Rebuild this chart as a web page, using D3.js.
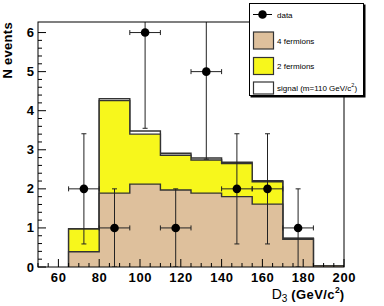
<!DOCTYPE html>
<html>
<head>
<meta charset="utf-8">
<script src="https://d3js.org/d3.v7.min.js"></script>
<style>
  body { margin: 0; background: #fff; }
  text { font-family: 'Liberation Sans', Arial, sans-serif; }
  .tick-label { font-size: 13px; font-weight: bold; fill: #000; letter-spacing: 0.6px; }
  .leg { font-size: 8px; fill: #000; }
</style>
</head>
<body>
<svg id="chart" width="384" height="306"></svg>
<script>
// bin edges (GeV/c^2) and stacked histogram contents
var binEdges = [65, 80, 95, 110, 125, 140, 155, 170, 185, 200];
var fourFermions = [0.39, 1.89, 2.12, 1.97, 1.89, 1.80, 1.61, 0.71, 0.03];
var twoFermions  = [0.58, 2.37, 1.28, 0.89, 0.85, 0.85, 0.57, 0.02, 0.00];
var signal       = [0.01, 0.05, 0.08, 0.05, 0.05, 0.03, 0.03, 0.01, 0.00];

// data points
var dataX   = [72.5, 87.5, 102.5, 117.5, 132.5, 147.5, 162.5, 177.5];
var dataN   = [2, 1, 6, 1, 5, 2, 2, 1];
var dataErr = [1.41, 1, 2.45, 1, 2.24, 1.41, 1.41, 1];
var dataXErr = 7.5;

var xTicks = [60, 80, 100, 120, 140, 160, 180, 200];
var yTicks = [0, 1, 2, 3, 4, 5, 6];

var svg = d3.select("#chart");
var pLeft = 38, pRight = 344, pTop = 22, pBottom = 267;

var x = d3.scaleLinear().domain([50, 200]).range([pLeft, pRight]);
var y = d3.scaleLinear().domain([0, 6.27]).range([pBottom, pTop]);

svg.append("clipPath").attr("id", "plotclip")
  .append("rect").attr("x", pLeft).attr("y", pTop)
  .attr("width", pRight - pLeft).attr("height", pBottom - pTop);

// cumulative stacks
var stack4 = fourFermions.slice();
var stack2 = fourFermions.map(function(d, i) { return d + twoFermions[i]; });
var stackS = stack2.map(function(d, i) { return d + signal[i]; });

function histPath(vals) {
  var p = d3.path();
  p.moveTo(x(binEdges[0]), y(0));
  vals.forEach(function(v, i) {
    p.lineTo(x(binEdges[i]), y(v));
    p.lineTo(x(binEdges[i + 1]), y(v));
  });
  p.lineTo(x(binEdges[binEdges.length - 1]), y(0));
  return p.toString();
}

var g = svg.append("g").attr("clip-path", "url(#plotclip)");
[[stackS, "#ffffff"], [stack2, "#f7f71c"], [stack4, "#dec09c"]].forEach(function(h) {
  g.append("path")
    .attr("d", histPath(h[0]))
    .attr("fill", h[1])
    .attr("stroke", "#333")
    .attr("stroke-width", 1.4);
});

// data with error bars
var pts = g.selectAll(".pt").data(dataX.map(function(d, i) {
  return { x: d, n: dataN[i], e: dataErr[i] };
})).enter().append("g");

pts.append("line")
  .attr("x1", function(d) { return x(d.x); }).attr("x2", function(d) { return x(d.x); })
  .attr("y1", function(d) { return y(d.n - d.e); }).attr("y2", function(d) { return y(d.n + d.e); })
  .attr("stroke", "#222").attr("stroke-width", 1);
pts.append("line")
  .attr("x1", function(d) { return x(d.x - dataXErr); }).attr("x2", function(d) { return x(d.x + dataXErr); })
  .attr("y1", function(d) { return y(d.n); }).attr("y2", function(d) { return y(d.n); })
  .attr("stroke", "#222").attr("stroke-width", 1);
// caps
[-1, 1].forEach(function(s) {
  pts.append("line")
    .attr("x1", function(d) { return x(d.x) - 2.5; }).attr("x2", function(d) { return x(d.x) + 2.5; })
    .attr("y1", function(d) { return y(d.n + s * d.e); }).attr("y2", function(d) { return y(d.n + s * d.e); })
    .attr("stroke", "#222").attr("stroke-width", 1);
  pts.append("line")
    .attr("x1", function(d) { return x(d.x + s * dataXErr); }).attr("x2", function(d) { return x(d.x + s * dataXErr); })
    .attr("y1", function(d) { return y(d.n) - 2.5; }).attr("y2", function(d) { return y(d.n) + 2.5; })
    .attr("stroke", "#222").attr("stroke-width", 1);
});
pts.append("circle")
  .attr("cx", function(d) { return x(d.x); }).attr("cy", function(d) { return y(d.n); })
  .attr("r", 4.3).attr("fill", "#000");

// frame
svg.append("rect").attr("x", pLeft).attr("y", pTop)
  .attr("width", pRight - pLeft).attr("height", pBottom - pTop)
  .attr("fill", "none").attr("stroke", "#000").attr("stroke-width", 1);

// x ticks
d3.range(50, 201, 5).forEach(function(v) {
  var major = v % 20 === 0;
  svg.append("line").attr("x1", x(v)).attr("x2", x(v))
    .attr("y1", pBottom).attr("y2", pBottom - (major ? 8 : 4))
    .attr("stroke", "#000").attr("stroke-width", 1);
});
svg.selectAll(".xl").data(xTicks).enter().append("text")
  .attr("class", "tick-label").attr("text-anchor", "middle")
  .attr("x", function(d) { return x(d) + 0.3; }).attr("y", 282)
  .text(function(d) { return d; });

// y ticks
d3.range(0, 31).forEach(function(k) {
  var v = k / 5, major = k % 5 === 0;
  svg.append("line").attr("x1", pLeft).attr("x2", pLeft + (major ? 8 : 4))
    .attr("y1", y(v)).attr("y2", y(v))
    .attr("stroke", "#000").attr("stroke-width", 1);
});
svg.selectAll(".yl").data(yTicks).enter().append("text")
  .attr("class", "tick-label").attr("text-anchor", "end")
  .attr("x", 34.5).attr("y", function(d) { return y(d) + 4.5; })
  .text(function(d) { return d; });

// axis titles
svg.append("text")
  .attr("transform", "translate(12,22)rotate(-90)")
  .attr("text-anchor", "end")
  .style("font-size", "13px").style("font-weight", "bold").style("letter-spacing", "0.3px")
  .text("N events");

var xt = svg.append("text").attr("x", 344).attr("y", 299).attr("text-anchor", "end");
xt.append("tspan").style("font-size", "14px").text("D");
xt.append("tspan").style("font-size", "10px").attr("dy", 3).text("3");
xt.append("tspan").style("font-size", "13px").style("font-weight", "bold")
  .style("letter-spacing", "0.4px").attr("dy", -3).text(" (GeV/c");
xt.append("tspan").style("font-size", "8.5px").style("font-weight", "bold").attr("dy", -6).text("2");
xt.append("tspan").style("font-size", "13px").style("font-weight", "bold").attr("dy", 6).text(")");

// legend
var lg = svg.append("g");
lg.append("rect").attr("x", 250.5).attr("y", 4.5).attr("width", 115).attr("height", 93).attr("fill", "#000");
lg.append("rect").attr("x", 249.5).attr("y", 3.5).attr("width", 114).attr("height", 92)
  .attr("fill", "#fff").attr("stroke", "#000").attr("stroke-width", 1);

lg.append("line").attr("x1", 253).attr("x2", 272).attr("y1", 14.5).attr("y2", 14.5)
  .attr("stroke", "#000").attr("stroke-width", 1);
lg.append("circle").attr("cx", 262.5).attr("cy", 14.5).attr("r", 4.3).attr("fill", "#000");
lg.append("text").attr("class", "leg").attr("x", 277).attr("y", 17.5).text("data");

var legBoxes = [
  { y: 32, h: 17, fill: "#dec09c" },
  { y: 57.5, h: 17, fill: "#f7f71c" },
  { y: 82, h: 12, fill: "#ffffff" }
];
legBoxes.forEach(function(b) {
  lg.append("rect").attr("x", 253.5).attr("y", b.y).attr("width", 20).attr("height", b.h)
    .attr("fill", b.fill).attr("stroke", "#333").attr("stroke-width", 1.2);
});
lg.append("text").attr("class", "leg").attr("x", 277).attr("y", 43.5).text("4 fermions");
lg.append("text").attr("class", "leg").attr("x", 277).attr("y", 69).text("2 fermions");
var st = lg.append("text").attr("class", "leg").attr("x", 277).attr("y", 91);
st.append("tspan").text("signal (m=110 GeV/c");
st.append("tspan").attr("dy", -4).style("font-size", "5.5px").text("2");
st.append("tspan").attr("dy", 4).text(")");
</script>
</body>
</html>
